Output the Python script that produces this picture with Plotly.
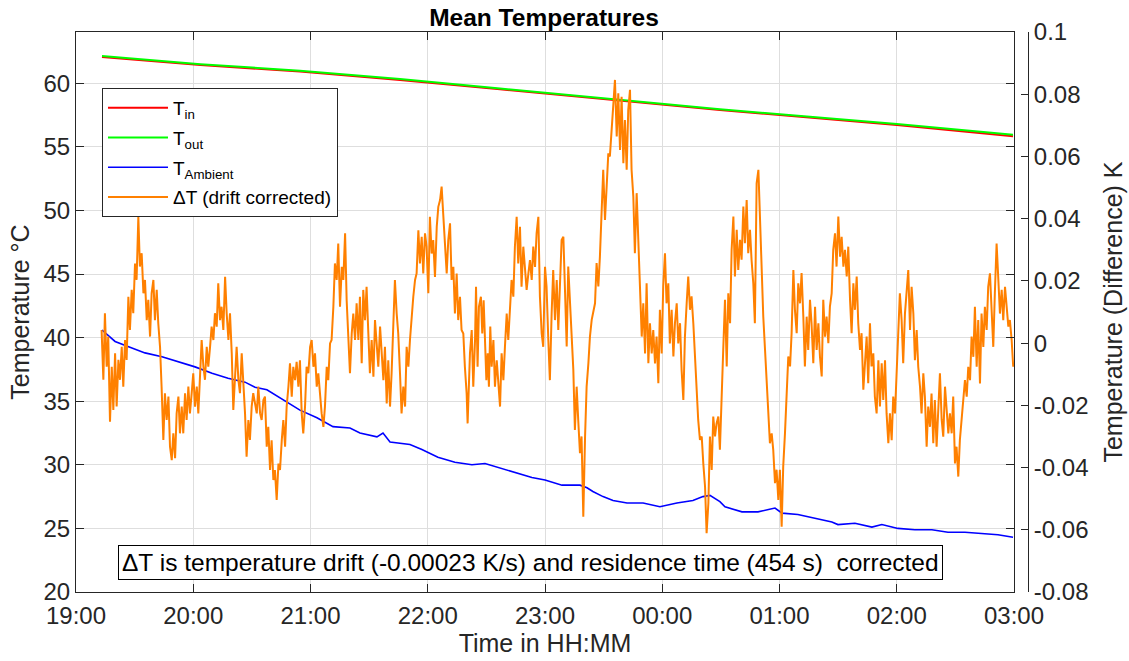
import pandas as pd
import plotly.graph_objects as go

T0 = pd.Timestamp("2021-03-01 19:00:00")
T_END = T0 + pd.Timedelta(hours=8)

# ---- inlet / outlet temperature (°C); times in minutes after 19:00 ----
flow_min = [13.3, 63.7, 114.6, 165.8, 217.0, 247.7, 298.8, 329.5, 360.2, 420.1, 479.5]
t_in = [62.07, 61.44, 60.92, 60.26, 59.52, 59.08, 58.30, 57.90, 57.50, 56.72, 55.84]
t_out = [62.15, 61.50, 60.98, 60.33, 59.58, 59.14, 58.36, 57.96, 57.56, 56.79, 55.95]

# ---- ambient temperature (°C) ----
amb_min = [13.3, 16.4, 20.0, 26.6, 35.3, 44.0, 52.2, 60.9, 69.6, 77.8,
           86.5, 91.6, 97.7, 105.9, 114.6, 123.3, 131.5, 140.2, 145.3, 154.0,
           157.1, 160.7, 170.9, 177.0, 185.2, 193.9, 202.6, 209.3, 215.9, 224.6,
           233.3, 240.0, 248.7, 257.9, 261.5, 264.5, 269.7, 274.8, 282.0, 290.2,
           298.8, 307.5, 315.7, 320.8, 324.4, 329.5, 332.1, 340.8, 349.0, 357.7,
           361.3, 369.4, 378.1, 386.8, 389.9, 398.6, 407.3, 412.4, 420.6, 429.3,
           438.0, 446.2, 454.9, 463.6, 471.8, 479.5]
t_amb = [40.6, 40.2, 39.7, 39.3, 38.8, 38.5, 38.1, 37.7, 37.2, 36.8,
         36.5, 36.1, 35.9, 35.1, 34.3, 33.7, 33.0, 32.9, 32.5, 32.2,
         32.5, 31.8, 31.6, 31.2, 30.6, 30.2, 30.0, 30.1, 29.8, 29.4,
         29.0, 28.8, 28.4, 28.4, 28.2, 27.9, 27.5, 27.2, 27.0, 27.0,
         26.7, 27.0, 27.2, 27.5, 27.6, 27.1, 26.7, 26.3, 26.3, 26.6,
         26.2, 26.1, 25.8, 25.5, 25.3, 25.4, 25.1, 25.3, 25.0, 24.9,
         24.9, 24.7, 24.7, 24.6, 24.5, 24.3]

# ---- drift-corrected temperature difference (K) ----
dT_min = [
    13.1, 14.0, 14.8, 15.7, 16.5, 17.4, 18.3, 19.1, 20.0, 20.8,
    21.7, 22.5, 23.4, 24.2, 25.1, 25.9, 26.8, 27.6, 28.5, 29.3,
    30.2, 31.0, 31.9, 32.7, 33.6, 34.5, 35.3, 36.2, 37.0, 37.9,
    38.7, 39.6, 40.4, 41.3, 42.1, 43.0, 43.8, 44.7, 45.5, 46.4,
    47.3, 48.1, 49.0, 49.8, 50.7, 51.5, 52.4, 53.2, 54.1, 54.9,
    55.8, 56.6, 57.5, 58.3, 59.2, 60.0, 60.9, 61.8, 62.6, 63.5,
    64.3, 65.2, 66.0, 66.9, 67.7, 68.6, 69.4, 70.3, 71.1, 72.0,
    72.8, 73.7, 74.5, 75.4, 76.3, 77.1, 78.0, 78.8, 79.7, 80.5,
    81.4, 82.2, 83.1, 83.9, 84.8, 85.6, 86.5, 87.3, 88.2, 89.0,
    89.9, 90.7,
    92.5, 93.3, 94.2, 95.0, 95.9, 96.7, 97.6, 98.4, 99.3, 100.1,
    101.0, 101.8, 102.7, 103.6, 104.4, 105.3, 106.1, 107.0, 107.8, 108.7,
    109.5, 110.4, 111.2, 112.1, 112.9, 113.8, 114.6, 115.5, 116.3, 117.2,
    118.0, 118.9, 119.8, 120.6, 121.5, 122.3, 123.2, 124.0, 124.9, 125.7,
    126.6, 127.4, 128.3, 129.1, 130.0, 130.8, 131.7, 132.5, 133.4, 134.2,
    135.1, 136.0, 136.8, 137.7, 138.5, 139.4, 140.2, 141.1, 141.9, 142.8,
    143.6, 144.5, 145.3, 146.2, 147.0, 147.9, 148.7, 149.6, 150.4, 151.3,
    152.2, 153.0, 153.9, 154.7, 155.6, 156.4, 157.3, 158.1, 159.0, 159.8,
    160.7, 161.5, 162.4, 163.2, 164.1, 164.9, 165.8, 166.6, 167.5, 168.4,
    169.2, 170.1,
    170.9, 171.8, 172.6, 173.5, 174.3, 175.2, 176.0, 176.9, 177.7, 178.6,
    179.4, 180.3, 181.1, 182.0, 182.8, 183.7, 184.6, 185.4, 186.3, 187.1,
    188.0, 188.8, 189.7, 190.5, 191.4, 192.2, 193.1, 193.9, 194.8, 195.6,
    196.5, 197.3, 198.2, 199.0, 199.9,
    200.4, 201.6, 202.5, 203.3, 204.2, 204.7, 205.5, 206.2, 207.2, 207.9,
    208.6, 209.3, 210.0, 210.7, 211.3, 212.0, 212.7,
    213.6, 214.4, 215.3, 216.1, 217.0, 217.8, 218.7, 219.5, 220.4, 221.2,
    222.1, 222.9, 223.8, 224.6, 225.5, 226.3, 227.2, 228.0, 228.9, 229.8,
    230.6, 231.5, 232.3, 233.2, 234.0, 234.9, 235.7, 236.6, 237.4, 238.3,
    239.1, 240.0, 240.8, 241.7, 242.5, 243.4, 244.2, 245.1, 246.0, 246.8,
    247.7, 248.5,
    249.4, 250.2, 251.1, 251.9, 252.8, 253.6, 254.5, 255.3, 256.2, 257.0,
    257.9, 258.7, 259.6, 260.5, 261.3, 262.2, 263.0, 263.9, 264.7, 265.6,
    266.4, 267.3, 268.1, 269.0, 269.8, 270.7, 271.5, 272.4, 273.2, 274.1,
    274.9, 275.8, 276.7, 277.5, 278.4, 279.2, 280.1, 280.9, 281.8, 282.6,
    283.5, 284.3, 285.2, 286.0, 286.9, 287.7, 288.6, 289.5, 290.3, 291.2,
    292.0, 292.9, 293.7, 294.6, 295.4, 296.3, 297.1, 298.0, 298.8, 299.7,
    300.5, 301.4, 302.2, 303.1, 303.9, 304.8, 305.7, 306.5, 307.4, 308.2,
    309.1, 309.9, 310.8, 311.6, 312.5, 313.3, 314.2, 315.0, 315.9, 316.7,
    317.6, 318.4, 319.3, 320.2, 321.0, 321.9, 322.7, 323.6, 324.4, 325.3,
    326.1, 327.0, 327.8,
    328.7, 329.5, 330.4, 331.2, 332.1, 333.0, 333.8, 334.7, 335.5, 336.4,
    337.2, 338.1, 338.9, 339.8, 340.6, 341.5, 342.3, 343.2, 344.0, 344.9,
    345.7, 346.6, 347.4, 348.3, 349.2, 350.0, 350.9, 351.7, 352.6, 353.4,
    354.3, 355.1, 356.0, 356.8, 357.7, 358.5, 359.4, 360.2, 361.1, 361.9,
    362.8, 363.7, 364.5, 365.4, 366.2, 367.1, 367.9, 368.8, 369.6, 370.5,
    371.3, 372.2, 373.0, 373.9, 374.7, 375.6, 376.4, 377.3, 378.2, 379.0,
    379.9, 380.7, 381.6, 382.4, 383.3, 384.1, 385.0, 385.8, 386.7, 387.5,
    388.4, 389.2, 390.1, 391.0, 391.8, 392.7, 393.5, 394.4, 395.2, 396.1,
    396.9, 397.8, 398.6, 399.5, 400.3, 401.2, 402.0, 402.9, 403.7, 404.6,
    405.4, 406.3, 407.1,
    408.0, 408.8, 409.7, 410.6, 411.4, 412.3, 413.1, 414.0, 414.8, 415.7,
    416.5, 417.4, 418.2, 419.1, 419.9, 420.8, 421.6, 422.5, 423.3, 424.2,
    425.1, 425.9, 426.8, 427.6, 428.5, 429.3, 430.2, 431.0, 431.9, 432.7,
    433.6, 434.4, 435.3, 436.1, 437.0, 437.8, 438.7, 439.5, 440.4, 441.3,
    442.1, 443.0, 443.8, 444.7, 445.5, 446.4, 447.2, 448.1, 448.9, 449.8,
    450.6, 451.5, 452.3, 453.2, 454.0, 454.9, 455.8, 456.6, 457.5, 458.3,
    459.2, 460.0, 460.9, 461.7, 462.6, 463.4, 464.3, 465.1, 466.0, 466.8,
    467.7, 468.5, 469.4, 470.2, 471.1, 472.0, 472.8, 473.7, 474.5, 475.4,
    476.2, 477.1, 477.9, 478.8, 479.6,
]
dT = [
    0.0042, -0.0118, 0.0096, -0.0076, 0.0021, -0.0253, -0.0076, -0.0215, -0.0033, -0.0204,
    -0.0054, -0.0118, -0.0012, -0.0140, 0.0010, -0.0054, 0.0149, 0.0042, 0.0171, 0.0096,
    0.0256, 0.0203, 0.0406, 0.0246, 0.0289, 0.0160, 0.0203, 0.0074, 0.0139, 0.0021,
    0.0160, 0.0203, 0.0074, 0.0171, 0.0064, -0.0012, -0.0140, -0.0311, -0.0161, -0.0247,
    -0.0172, -0.0333, -0.0376, -0.0290, -0.0370, -0.0226, -0.0172, -0.0290, -0.0204, -0.0290,
    -0.0161, -0.0247, -0.0140, -0.0226, -0.0161, -0.0097, -0.0204, -0.0140, -0.0226, -0.0076,
    0.0010, -0.0076, -0.0118, -0.0012, -0.0076, -0.0012, 0.0053, 0.0010, 0.0096, 0.0053,
    0.0192, 0.0074, 0.0117, 0.0042, 0.0213, 0.0096, 0.0010, 0.0096, -0.0033, -0.0215,
    -0.0076, -0.0012, -0.0118, -0.0161, -0.0033, -0.0118, -0.0226, -0.0365, -0.0247, -0.0311,
    -0.0204, -0.0161,
    -0.0226, -0.0140, -0.0226, -0.0247, -0.0183, -0.0172, -0.0333, -0.0269, -0.0408, -0.0312,
    -0.0440, -0.0408, -0.0504, -0.0387, -0.0408, -0.0312, -0.0247, -0.0333, -0.0204, -0.0140,
    -0.0065, -0.0172, -0.0076, -0.0119, -0.0060, -0.0140, -0.0055, -0.0226, -0.0290, -0.0204,
    -0.0076, -0.0097, -0.0012, 0.0010, -0.0076, -0.0033, -0.0140, -0.0097, -0.0183, -0.0226,
    -0.0269, -0.0204, -0.0076, -0.0119, -0.0001, 0.0010, 0.0117, 0.0256, 0.0203, 0.0320,
    0.0117, 0.0245, 0.0203, 0.0353, 0.0138, -0.0012, -0.0097, 0.0031, 0.0095, 0.0010,
    0.0128, 0.0010, 0.0149, -0.0065, 0.0171, 0.0074, 0.0181, 0.0031, -0.0097, 0.0010,
    -0.0108, 0.0074, -0.0012, -0.0076, 0.0053, -0.0033, -0.0119, -0.0012, -0.0194, -0.0055,
    -0.0204, -0.0097, 0.0095, 0.0203, 0.0095, 0.0031, -0.0097, -0.0226, -0.0140, -0.0204,
    -0.0012, -0.0076,
    0.0010, 0.0095, 0.0149, 0.0203, 0.0224, 0.0363, 0.0256, 0.0342, 0.0224, 0.0353,
    0.0310, 0.0160, 0.0406, 0.0288, 0.0331, 0.0213, 0.0374, 0.0438, 0.0460, 0.0503,
    0.0417, 0.0310, 0.0224, 0.0331, 0.0385, 0.0203, 0.0245, 0.0095, 0.0224, 0.0074,
    0.0149, 0.0042, 0.0031, -0.0076, -0.0162,
    -0.0258, -0.0033, 0.0042, -0.0140, 0.0010, 0.0181, -0.0076, 0.0117, 0.0149, 0.0031,
    0.0138, 0.0010, -0.0119, -0.0033, -0.0140, 0.0053, -0.0076,
    0.0010, -0.0140, -0.0055, -0.0119, -0.0204, -0.0033, -0.0119, -0.0012, 0.0095, 0.0010,
    0.0117, 0.0203, 0.0149, 0.0310, 0.0406, 0.0256, 0.0374, 0.0181, 0.0310, 0.0245,
    0.0171, 0.0224, 0.0267, 0.0203, 0.0310, 0.0245, 0.0353, 0.0406, 0.0149, 0.0031,
    -0.0012, 0.0245, 0.0181, 0.0010, -0.0119, 0.0095, 0.0235, 0.0074, 0.0203, 0.0042,
    0.0224, 0.0331,
    0.0342, 0.0182, -0.0011, 0.0246, 0.0128, 0.0021, -0.0086, -0.0279, -0.0140, -0.0247,
    -0.0354, -0.0300, -0.0558, -0.0300, -0.0140, -0.0065, 0.0021, 0.0075, 0.0107, 0.0128,
    0.0257, 0.0182, 0.0278, 0.0428, 0.0557, 0.0396, 0.0524, 0.0610, 0.0600, 0.0685,
    0.0771, 0.0846, 0.0664, 0.0803, 0.0621, 0.0792, 0.0578, 0.0717, 0.0557, 0.0750,
    0.0814, 0.0557, 0.0471, 0.0289, 0.0482, 0.0342, 0.0214, 0.0021, 0.0128, -0.0033,
    0.0192, -0.0065, 0.0064, -0.0033, 0.0042, -0.0065, 0.0021, -0.0129, 0.0107, -0.0033,
    0.0182, 0.0289, 0.0128, 0.0192, -0.0001, 0.0107, -0.0043, 0.0064, 0.0128, -0.0001,
    0.0064, -0.0086, -0.0183, 0.0021, 0.0128, 0.0214, 0.0107, 0.0150, 0.0064, -0.0043,
    -0.0140, -0.0247, -0.0311, -0.0300, -0.0386, -0.0461, -0.0611, -0.0515, -0.0300, -0.0408,
    -0.0236, -0.0300, -0.0258,
    -0.0236, -0.0343, -0.0129, -0.0022, 0.0139, -0.0075, 0.0160, 0.0064, 0.0300, 0.0407,
    0.0214, 0.0364, 0.0235, 0.0332, 0.0268, 0.0439, 0.0321, 0.0460, 0.0289, 0.0364,
    0.0268, 0.0192, 0.0064, 0.0514, 0.0557, 0.0407, 0.0192, 0.0085, -0.0022, -0.0129,
    -0.0236, -0.0322, -0.0290, -0.0343, -0.0450, -0.0407, -0.0504, -0.0407, -0.0590, -0.0397,
    -0.0290, -0.0182, -0.0043, -0.0075, 0.0032, 0.0235, 0.0107, 0.0032, 0.0192, 0.0128,
    0.0225, 0.0085, -0.0075, 0.0085, -0.0022, 0.0139, 0.0064, -0.0065, 0.0117, -0.0022,
    0.0064, -0.0043, -0.0107, 0.0139, 0.0021, 0.0085, 0.0000, 0.0117, 0.0160, 0.0300,
    0.0353, 0.0246, 0.0407, 0.0278, 0.0342, 0.0246, 0.0300, 0.0214, 0.0310, 0.0139,
    0.0032, 0.0192, 0.0107, 0.0214, 0.0064, -0.0022, 0.0032, -0.0150, -0.0075, 0.0021,
    -0.0129, 0.0064, -0.0075,
    -0.0033, -0.0172, -0.0226, -0.0055, -0.0204, -0.0065, -0.0183, -0.0055, -0.0226, -0.0322,
    -0.0226, -0.0312, -0.0172, -0.0226, -0.0119, 0.0042, 0.0160, 0.0074, -0.0065, 0.0095,
    0.0181, 0.0235, 0.0042, 0.0181, 0.0095, -0.0055, 0.0042, -0.0076, -0.0140, -0.0226,
    -0.0097, -0.0172, -0.0333, -0.0204, -0.0269, -0.0162, -0.0322, -0.0183, -0.0333, -0.0226,
    -0.0097, -0.0247, -0.0301, -0.0140, -0.0226, -0.0290, -0.0226, -0.0290, -0.0172, -0.0387,
    -0.0333, -0.0429, -0.0312, -0.0247, -0.0204, -0.0119, -0.0172, -0.0076, -0.0119, 0.0021,
    -0.0044, 0.0117, -0.0076, 0.0074, -0.0130, 0.0095, -0.0012, 0.0117, 0.0042, 0.0181,
    0.0224, 0.0117, -0.0012, 0.0160, 0.0320, 0.0203, 0.0095, 0.0171, 0.0074, 0.0181,
    0.0117, 0.0053, 0.0074, 0.0010, -0.0076,
]

# ---- axis ticks ----
left_ticks = [20, 25, 30, 35, 40, 45, 50, 55, 60]
right_ticks = [-0.08, -0.06, -0.04, -0.02, 0, 0.02, 0.04, 0.06, 0.08, 0.1]
right_tick_text = ["-0.08", "-0.06", "-0.04", "-0.02", "0", "0.02", "0.04", "0.06", "0.08", "0.1"]

NOTE = "\u0394T is temperature drift (-0.00023 K/s) and residence time (454 s)\u00a0 corrected"


def stamps(minutes):
    return T0 + pd.to_timedelta(minutes, unit="min")


FONT = "Liberation Sans, Arial, Helvetica, sans-serif"
AX = "#262626"
GRID = "#dedede"
TICK_SIZE = 24
LABEL_SIZE = 25

fig = go.Figure()
fig.add_trace(go.Scatter(x=stamps(flow_min), y=t_in, mode="lines", name="T<sub>in</sub>",
                         legendgroup="in", line=dict(color="#ff0000", width=2)))
fig.add_trace(go.Scatter(x=stamps(flow_min), y=t_out, mode="lines", name="T<sub>out</sub>",
                         legendgroup="out", line=dict(color="#00ff00", width=2)))
fig.add_trace(go.Scatter(x=stamps(amb_min), y=t_amb, mode="lines", name="T<sub>Ambient</sub>",
                         legendgroup="amb", line=dict(color="#0000ff", width=1.6)))
fig.add_trace(go.Scatter(x=stamps(dT_min), y=dT, mode="lines", name="\u0394T (drift corrected)",
                         legendgroup="dt", yaxis="y2", line=dict(color="#ff8000", width=2)))

fig.update_layout(
    width=1129, height=661,
    margin=dict(l=76, r=101, t=32, b=69, pad=0, autoexpand=False),
    paper_bgcolor="white", plot_bgcolor="white",
    font=dict(family=FONT, color=AX),
    title=dict(text="<b>Mean Temperatures</b>", x=0.4916, xref="paper", xanchor="center",
               y=1 - 17 / 661, yref="container", yanchor="middle", automargin=False,
               font=dict(size=24.5, color="black", family=FONT)),
    showlegend=True,
    legend=dict(x=0.0273, y=0.9, xanchor="left", yanchor="top",
                bgcolor="white", bordercolor=AX, borderwidth=1,
                font=dict(size=19, color="black", family=FONT),
                tracegroupgap=2, itemwidth=60),
    xaxis=dict(
        domain=[0, 0.98529], type="date", range=[T0, T_END], automargin=False,
        tick0=T0, dtick=3600000, tickformat="%H:%M",
        ticks="inside", ticklen=8, tickcolor=AX, mirror="ticks",
        showline=True, linecolor=AX, linewidth=1,
        showgrid=True, gridcolor=GRID, gridwidth=1, zeroline=False,
        tickfont=dict(size=TICK_SIZE, color=AX), ticklabelstandoff=2,
        title=dict(text="Time in HH:MM", font=dict(size=LABEL_SIZE, color=AX), standoff=6),
    ),
    yaxis=dict(
        range=[20, 64.03], tickvals=left_ticks, automargin=False,
        ticks="inside", ticklen=8, tickcolor=AX, mirror="ticks",
        showline=True, linecolor=AX, linewidth=1,
        showgrid=True, gridcolor=GRID, gridwidth=1, zeroline=False,
        tickfont=dict(size=TICK_SIZE, color=AX),
        title=dict(text="Temperature \u00b0C", font=dict(size=LABEL_SIZE, color=AX), standoff=6),
    ),
    yaxis2=dict(
        overlaying="y", side="right", anchor="free", position=1, automargin=False,
        range=[-0.08, 0.1], tickvals=right_ticks, ticktext=right_tick_text,
        ticks="inside", ticklen=7, tickcolor=AX,
        showline=True, linecolor=AX, linewidth=1,
        showgrid=False, zeroline=False,
        tickfont=dict(size=TICK_SIZE, color=AX),
        title=dict(text="Temperature (Difference) K", font=dict(size=LABEL_SIZE, color=AX), standoff=16),
    ),
    annotations=[dict(
        text=NOTE, xref="paper", yref="paper", x=0.477, y=0.0527,
        xanchor="center", yanchor="middle", showarrow=False,
        font=dict(size=24.5, color="black", family=FONT),
        bgcolor="white", bordercolor="black", borderwidth=1, borderpad=3,
    )],
)

fig.write_html("out.html")
